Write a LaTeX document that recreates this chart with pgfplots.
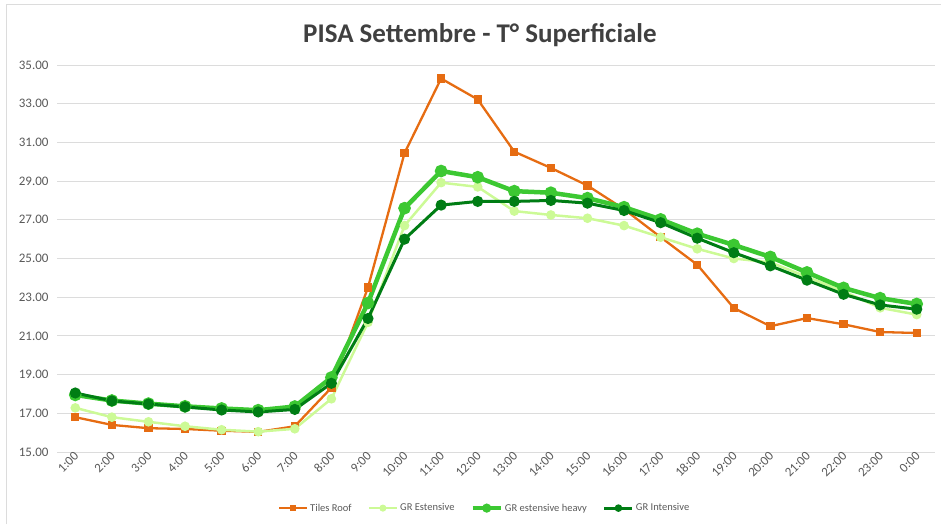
\documentclass[border=0pt]{standalone}
\usepackage{pgfplots}
\pgfplotsset{compat=1.18}
\usepackage{fontspec}
\setmainfont{Carlito}
\definecolor{tiles}{RGB}{230,108,18}
\definecolor{gre}{RGB}{204,250,150}
\definecolor{greh}{RGB}{60,200,50}
\definecolor{gri}{RGB}{0,125,20}
\definecolor{tickc}{RGB}{89,89,89}
\definecolor{gridc}{RGB}{220,220,220}
\begin{document}
\begin{tikzpicture}[x=1pt,y=1pt]
\useasboundingbox (0,0) rectangle (941,524);
\draw[gridc,line width=1pt] (6,0) -- (6,519) -- (941,519);
\node[font=\fontsize{27}{32}\selectfont\bfseries, text=black!75] at (480,489) {PISA Settembre - T° Superficiale};
\begin{axis}[
  at={(57pt,72pt)}, anchor=south west,
  scale only axis, width=878pt, height=387pt,
  xmin=-0.5, xmax=23.5, ymin=15, ymax=35,
  axis line style={draw=none},
  major tick length=0pt,
  xtick={0,...,23},
  xticklabels={1:00,2:00,3:00,4:00,5:00,6:00,7:00,8:00,9:00,10:00,11:00,12:00,13:00,14:00,15:00,16:00,17:00,18:00,19:00,20:00,21:00,22:00,23:00,0:00},
  ytick={15,17,...,35},
  yticklabel={\pgfmathprintnumber[fixed,fixed zerofill,precision=2]{\tick}},
  /pgf/number format/assume math mode=true,
  ymajorgrids, grid style={gridc, line width=0.8pt},
  tick label style={font=\fontsize{13}{15}\selectfont, text=tickc},
  yticklabel style={xshift=-5pt},
  xticklabel style={rotate=45, anchor=east, xshift=3pt, yshift=-2pt},
  legend columns=4,
  legend style={at={(0.487,-0.145)}, anchor=center, draw=none, fill=none,
    font=\fontsize{10.5}{12}\selectfont, text=tickc,
    /tikz/every even column/.append style={column sep=14pt}},
  legend image code/.code={\draw[#1] (0pt,0pt) -- (28pt,0pt); \draw[#1,only marks,mark size=2.2pt] plot coordinates {(14pt,0pt)};},
]
\addplot[tiles, line width=2.3pt, mark=square*, mark size=3pt] coordinates {
(0,16.80) (1,16.40) (2,16.23) (3,16.19) (4,16.10) (5,16.04) (6,16.33) (7,18.32)
(8,23.50) (9,30.45) (10,34.30) (11,33.22) (12,30.52) (13,29.68) (14,28.77) (15,27.55)
(16,26.10) (17,24.68) (18,22.44) (19,21.50) (20,21.92) (21,21.60) (22,21.20) (23,21.15)};
\addlegendentry{Tiles Roof}
\addplot[gre, line width=2.5pt, mark=*, mark size=3.5pt] coordinates {
(0,17.28) (1,16.80) (2,16.56) (3,16.33) (4,16.15) (5,16.05) (6,16.20) (7,17.75)
(8,21.70) (9,26.70) (10,28.92) (11,28.70) (12,27.45) (13,27.25) (14,27.08) (15,26.70)
(16,26.10) (17,25.50) (18,25.00) (19,24.80) (20,24.05) (21,23.30) (22,22.45) (23,22.10)};
\addlegendentry{GR Estensive}
\addplot[greh, line width=4.5pt, mark=*, mark size=4pt] coordinates {
(0,17.95) (1,17.66) (2,17.50) (3,17.36) (4,17.25) (5,17.16) (6,17.35) (7,18.85)
(8,22.70) (9,27.60) (10,29.52) (11,29.20) (12,28.48) (13,28.40) (14,28.12) (15,27.65)
(16,27.02) (17,26.28) (18,25.70) (19,25.08) (20,24.28) (21,23.48) (22,22.95) (23,22.65)};
\addlegendentry{GR estensive heavy}
\addplot[gri, line width=3pt, mark=*, mark size=4pt] coordinates {
(0,18.05) (1,17.64) (2,17.48) (3,17.33) (4,17.17) (5,17.07) (6,17.20) (7,18.55)
(8,21.90) (9,26.00) (10,27.76) (11,27.95) (12,27.95) (13,28.00) (14,27.86) (15,27.48)
(16,26.85) (17,26.05) (18,25.30) (19,24.62) (20,23.88) (21,23.15) (22,22.60) (23,22.38)};
\addlegendentry{GR Intensive}
\end{axis}
\end{tikzpicture}
\end{document}
